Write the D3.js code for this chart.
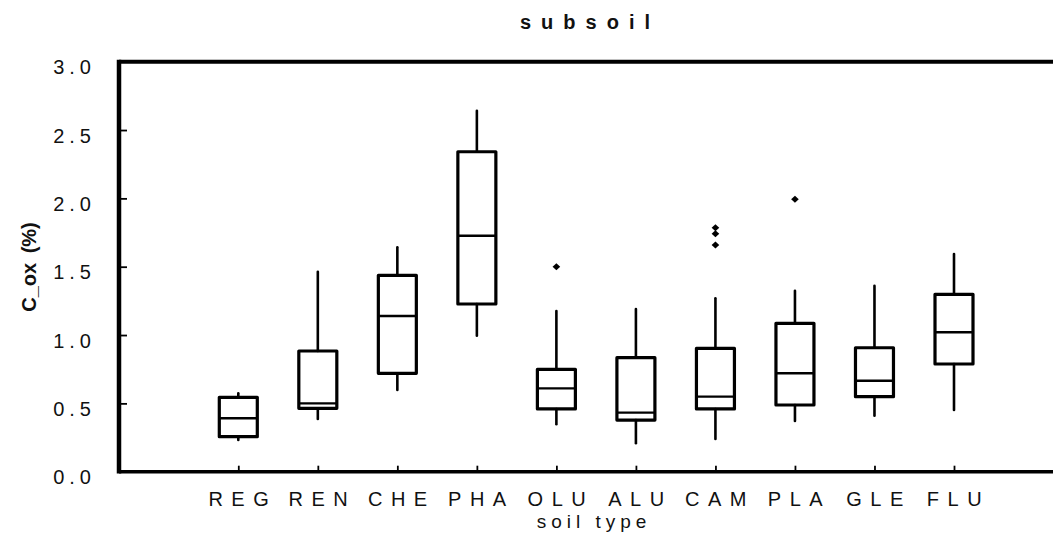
<!DOCTYPE html>
<html>
<head>
<meta charset="utf-8">
<script src="https://cdn.jsdelivr.net/npm/d3@7"></script>
<style>
  html, body { margin: 0; padding: 0; background: #fff; }
  svg { display: block; }
  text { font-family: "Liberation Sans", Arial, sans-serif; fill: #111; }
</style>
</head>
<body>
<div id="chart"></div>
<script>
// ---- data ----
const categories = ["REG", "REN", "CHE", "PHA", "OLU", "ALU", "CAM", "PLA", "GLE", "FLU"];
const whiskerLow  = [0.232, 0.386, 0.598, 0.995, 0.347, 0.208, 0.239, 0.371, 0.410, 0.451];
const q1          = [0.256, 0.464, 0.720, 1.227, 0.459, 0.378, 0.459, 0.488, 0.549, 0.788];
const medians     = [0.391, 0.500, 1.139, 1.727, 0.610, 0.432, 0.549, 0.720, 0.666, 1.020];
const q3          = [0.544, 0.883, 1.437, 2.341, 0.749, 0.834, 0.903, 1.086, 0.907, 1.298];
const whiskerHigh = [0.574, 1.463, 1.642, 2.641, 1.176, 1.190, 1.269, 1.324, 1.361, 1.593];
const outliers = [
  { cat: "OLU", value: 1.500 },
  { cat: "CAM", value: 1.785 },
  { cat: "CAM", value: 1.741 },
  { cat: "CAM", value: 1.659 },
  { cat: "PLA", value: 1.993 }
];
const yTicks = [0, 0.5, 1.0, 1.5, 2.0, 2.5, 3.0];
const titleText = "subsoil";
const xTitle = "soil type";
const yTitle = "C_ox (%)";

// ---- layout ----
const W = 1053, H = 533;
const mLeft = 119, mRight = 1053, mTop = 61.7, mBottom = 471.7;

const svg = d3.select("#chart").append("svg").attr("width", W).attr("height", H);

const x = d3.scalePoint().domain(categories).range([238.3, 954]);
const y = d3.scaleLinear().domain([0, 3]).range([mBottom, mTop]);

const boxes = categories.map((c, i) => ({
  cat: c, lo: whiskerLow[i], q1: q1[i], med: medians[i], q3: q3[i], hi: whiskerHigh[i]
}));

// frame: top, left, bottom lines
svg.append("line").attr("x1", mLeft).attr("x2", mRight).attr("y1", mTop).attr("y2", mTop)
  .attr("stroke", "#000").attr("stroke-width", 4);
svg.append("line").attr("x1", mLeft).attr("x2", mRight).attr("y1", mBottom).attr("y2", mBottom)
  .attr("stroke", "#000").attr("stroke-width", 3.5);
svg.append("line").attr("x1", mLeft).attr("x2", mLeft).attr("y1", mTop - 2).attr("y2", mBottom + 1.75)
  .attr("stroke", "#000").attr("stroke-width", 4.5);

// y axis ticks (inside) and labels
const yAxis = d3.axisLeft(y).tickValues(yTicks).tickFormat(d3.format(".1f")).tickSize(0);
const gy = svg.append("g").attr("transform", `translate(${mLeft},0)`).call(yAxis);
gy.select(".domain").remove();
gy.selectAll(".tick text")
  .attr("x", -23)
  .attr("dy", null)
  .attr("y", 12)
  .style("font-size", "20px")
  .style("letter-spacing", "5px")
  .style("font-family", "'Liberation Sans', Arial, sans-serif")
  .attr("fill", "#111");
gy.selectAll(".tick").filter(d => d > 0 && d < 3).append("line")
  .attr("x1", 2).attr("x2", 8).attr("stroke", "#000").attr("stroke-width", 1.8);

// x axis ticks (inside, upward) and labels
const xAxis = d3.axisBottom(x).tickSize(0);
const gx = svg.append("g").attr("transform", `translate(0,${mBottom})`).call(xAxis);
gx.select(".domain").remove();
gx.selectAll(".tick text")
  .attr("y", 34.5)
  .attr("dy", null)
  .attr("dx", 4)
  .style("font-size", "20px")
  .style("letter-spacing", "8.5px")
  .style("font-family", "'Liberation Sans', Arial, sans-serif")
  .attr("fill", "#111");
gx.selectAll(".tick").append("line")
  .attr("y1", -1.5).attr("y2", -6).attr("stroke", "#000").attr("stroke-width", 1.8);

// boxes
const bw = 38;
const g = svg.append("g");
const bg = g.selectAll("g.box").data(boxes).join("g").attr("class", "box");
bg.append("line")
  .attr("x1", d => x(d.cat)).attr("x2", d => x(d.cat))
  .attr("y1", d => y(d.hi)).attr("y2", d => y(d.q3))
  .attr("stroke", "#000").attr("stroke-width", 2.6).attr("stroke-linecap", "round");
bg.append("line")
  .attr("x1", d => x(d.cat)).attr("x2", d => x(d.cat))
  .attr("y1", d => y(d.q1)).attr("y2", d => y(d.lo))
  .attr("stroke", "#000").attr("stroke-width", 2.6).attr("stroke-linecap", "round");
bg.append("rect")
  .attr("x", d => x(d.cat) - bw / 2).attr("width", bw)
  .attr("y", d => y(d.q3)).attr("height", d => y(d.q1) - y(d.q3))
  .attr("fill", "none").attr("stroke", "#000").attr("stroke-width", 3.2)
  .attr("stroke-linejoin", "round");
bg.append("line")
  .attr("x1", d => x(d.cat) - bw / 2).attr("x2", d => x(d.cat) + bw / 2)
  .attr("y1", d => y(d.med)).attr("y2", d => y(d.med))
  .attr("stroke", "#000").attr("stroke-width", 2.4);

// outliers (diamonds)
const diamond = d3.symbol().type(d3.symbolDiamond).size(14);
g.selectAll("path.out").data(outliers).join("path").attr("class", "out")
  .attr("d", diamond())
  .attr("transform", d => `translate(${x(d.cat)},${y(d.value)}) scale(1.9,1)`)
  .attr("fill", "#000");

// titles
svg.append("text").attr("x", 585 + 5).attr("y", 28.5).attr("text-anchor", "middle")
  .style("font-size", "20px").style("font-weight", "bold").style("letter-spacing", "10px")
  .text(titleText);
svg.append("text").attr("x", 591.5 + 2.5).attr("y", 528).attr("text-anchor", "middle")
  .style("font-size", "19px").style("letter-spacing", "5px")
  .text(xTitle);
svg.append("text").attr("transform", "translate(36,267) rotate(-90)").attr("text-anchor", "middle")
  .style("font-size", "20px").style("font-weight", "bold").style("word-spacing", "4px")
  .text(yTitle);
</script>
</body>
</html>
